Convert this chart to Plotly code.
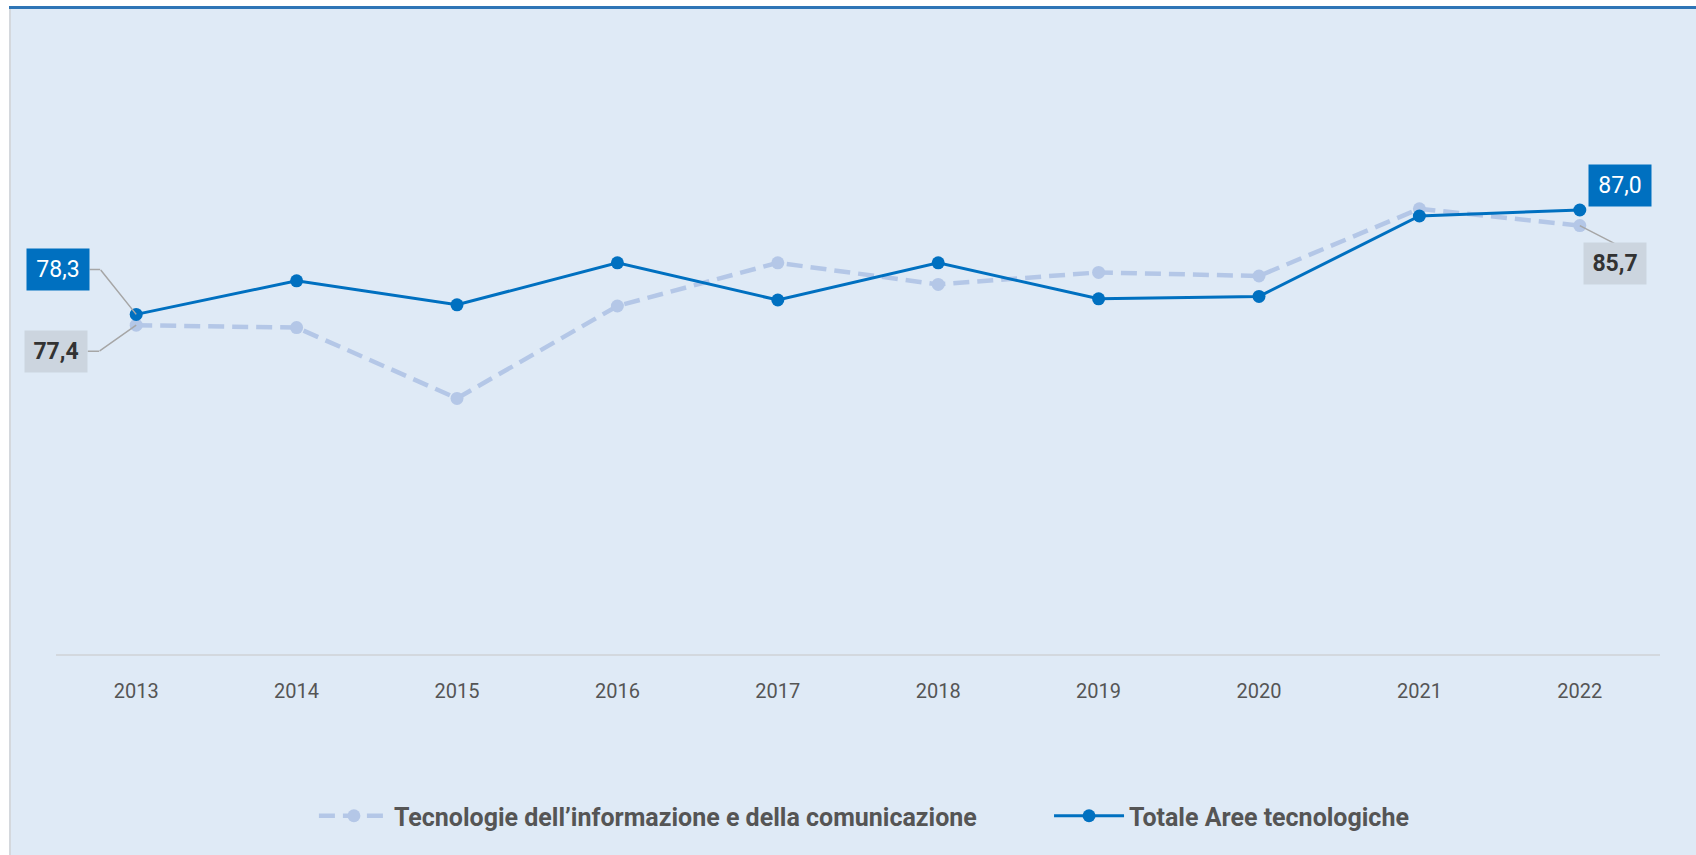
import plotly.graph_objects as go

# data
years = ["2013", "2014", "2015", "2016", "2017", "2018", "2019", "2020", "2021", "2022"]
ict = [77.4, 77.2, 71.3, 79.0, 82.6, 80.8, 81.8, 81.5, 87.1, 85.7]
totale = [78.3, 81.1, 79.1, 82.6, 79.5, 82.6, 79.6, 79.8, 86.5, 87.0]

ict_name = "Tecnologie dell\u2019informazione e della comunicazione"
totale_name = "Totale Aree tecnologiche"

BG = "#DFEAF6"
BLUE = "#0070C0"
LIGHT = "#B4C7E7"
GREY = "#A6A6A6"
FONT = "Roboto"

fig = go.Figure()

fig.add_trace(go.Scatter(
    x=years, y=ict, name=ict_name, mode="lines+markers",
    line=dict(color=LIGHT, width=4.5, dash="16px,8px"),
    marker=dict(size=13, color=LIGHT),
    legend="legend",
))
fig.add_trace(go.Scatter(
    x=years, y=totale, name=totale_name, mode="lines+markers",
    line=dict(color=BLUE, width=3),
    marker=dict(size=13, color=BLUE),
    legend="legend2",
))


def label(i, y, text, ax, ay, blue):
    # value box placed off the point (its own arrow hidden)
    fig.add_annotation(
        x=i, y=y, xref="x", yref="y", text=text,
        showarrow=True, arrowhead=0, arrowwidth=1, arrowcolor="rgba(0,0,0,0)",
        ax=ax, ay=ay, standoff=0,
        bgcolor=BLUE if blue else "#CCD5DF",
        width=62, height=41, borderpad=0,
        font=dict(family=FONT, size=23, color="white" if blue else "#333333"),
    )


def connector(i, y, ax, ay, xshift=0, yshift=0):
    # thin grey leader segment ending at (point + shift)
    fig.add_annotation(
        x=i, y=y, xref="x", yref="y", text=" ",
        showarrow=True, arrowhead=0, arrowwidth=1.5, arrowcolor=GREY,
        ax=ax, ay=ay, xshift=xshift, yshift=yshift, standoff=0,
        font=dict(size=1), borderpad=0,
    )


last = len(years) - 1

# 78,3 : stub + diagonal
connector(0, totale[0], -36, -45)
connector(0, totale[0], -11, 0, xshift=-36, yshift=45)
label(0, totale[0], "78,3", -78, -45, True)

# 77,4 : stub + diagonal
connector(0, ict[0], -37, 26)
connector(0, ict[0], -12, 0, xshift=-37, yshift=-26)
label(0, ict[0], "<b>77,4</b>", -80, 26, False)

label(last, totale[-1], "87,0", 40, -25, True)

connector(last, ict[-1], 35, 18)
label(last, ict[-1], "<b>85,7</b>", 35, 38, False)

# page frame: white strip, blue top rule, grey left rule
frame = [
    dict(x0=-60, x1=2000, y0=48, y1=60, fill="white"),
    dict(x0=-47, x1=2000, y0=45, y1=48, fill="#2E75B6"),
    dict(x0=-60, x1=-47, y0=-900, y1=48, fill="white"),
    dict(x0=-47, x1=-45, y0=-900, y1=45, fill="#D4D8DD"),
]
for f in frame:
    fig.add_shape(type="rect", xref="paper", yref="paper",
                  xsizemode="pixel", ysizemode="pixel",
                  xanchor=0, yanchor=1,
                  x0=f["x0"], x1=f["x1"], y0=f["y0"], y1=f["y1"],
                  fillcolor=f["fill"], line=dict(width=0), layer="below")

legend_style = dict(
    orientation="h", xanchor="left", y=-0.27, yanchor="middle",
    font=dict(family=FONT, size=25, color="#555555", weight="bold"),
    itemwidth=70, bgcolor="rgba(0,0,0,0)",
)

fig.update_layout(
    width=1696, height=855,
    margin=dict(l=56, r=36, t=54, b=201, autoexpand=False),
    paper_bgcolor=BG, plot_bgcolor=BG,
    font=dict(family=FONT, color="#555555"),
    showlegend=True,
    legend=dict(x=0.1608, **legend_style),
    legend2=dict(x=0.6191, **legend_style),
)
fig.update_xaxes(
    type="category", range=[-0.5, 9.5], showgrid=False, zeroline=False,
    showline=True, linecolor="#D3D8DE", linewidth=2, ticks="",
    ticklabelstandoff=18,
    tickfont=dict(family=FONT, size=20, color="#555555"),
)
fig.update_yaxes(
    range=[50, 100], showgrid=False, zeroline=False, showticklabels=False,
    showline=False,
)

fig.write_html("out.html", config={"displayModeBar": False},
               post_script="document.body.style.margin='0';")
